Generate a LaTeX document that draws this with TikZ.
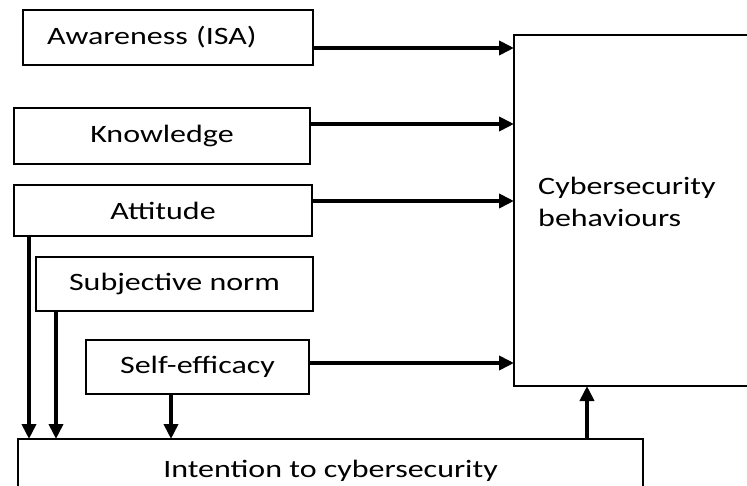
\documentclass[tikz,border=0pt]{standalone}
\usepackage{fontspec}
\setmainfont{Carlito}[FakeStretch=1.28]
\usetikzlibrary{arrows.meta}
\begin{document}
\begin{tikzpicture}[x=1pt,y=-1pt,
  boxfont/.style={font=\fontsize{25}{32}\selectfont},
  box/.style={draw=black,line width=2pt,rectangle,inner sep=0pt,fill=white,boxfont},
  arr/.style={line width=3.8pt,-{Triangle[length=15pt,width=14pt]},shorten >=-1pt}]
\useasboundingbox (0,0) rectangle (747,486);
\clip (0,0) rectangle (747,486);
\fill[white] (0,0) rectangle (747,486);
% input boxes
\node[box,minimum width=290pt,minimum height=55pt,text width=242pt,inner xsep=24pt,align=left] (aw) at (168,37.5) {Awareness (ISA)};
\node[box,minimum width=296pt,minimum height=56pt] (kn) at (162,136) {Knowledge};
\node[box,minimum width=298pt,minimum height=51pt] (at) at (163,210.5) {Attitude};
\node[box,minimum width=277pt,minimum height=54pt] (sn) at (174.5,284) {Subjective norm};
\node[box,minimum width=223pt,minimum height=54pt] (se) at (197.5,367) {Self-efficacy};
% outcome boxes
\node[box,minimum width=290pt,minimum height=351pt,
  label={[boxfont,align=left,anchor=west,inner sep=0pt,xshift=25pt,yshift=9pt]west:Cybersecurity\\behaviours}] (cb) at (659,210.5) {};
\node[box,minimum width=625pt,minimum height=63pt] (in) at (330.5,470.5) {Intention to cybersecurity};
% arrows to behaviours
\draw[arr] ([yshift=-10.5pt]aw.east) -- ([yshift=-10.5pt]aw.east -| cb.west);
\draw[arr] ([yshift=12pt]kn.east) -- ([yshift=12pt]kn.east -| cb.west);
\draw[arr] ([yshift=9.5pt]at.east) -- ([yshift=9.5pt]at.east -| cb.west);
\draw[arr] ([yshift=4pt]se.east) -- ([yshift=4pt]se.east -| cb.west);
% arrows to intention
\draw[arr] ([xshift=16pt]at.south west) -- ([xshift=16pt]at.south west |- in.north);
\draw[arr] ([xshift=21pt]sn.south west) -- ([xshift=21pt]sn.south west |- in.north);
\draw[arr] ([xshift=86pt]se.south west) -- ([xshift=86pt]se.south west |- in.north);
% intention to behaviours
\draw[arr] ([xshift=-57pt]in.north east) -- ([xshift=-57pt]in.north east |- cb.south);
\end{tikzpicture}
\end{document}
